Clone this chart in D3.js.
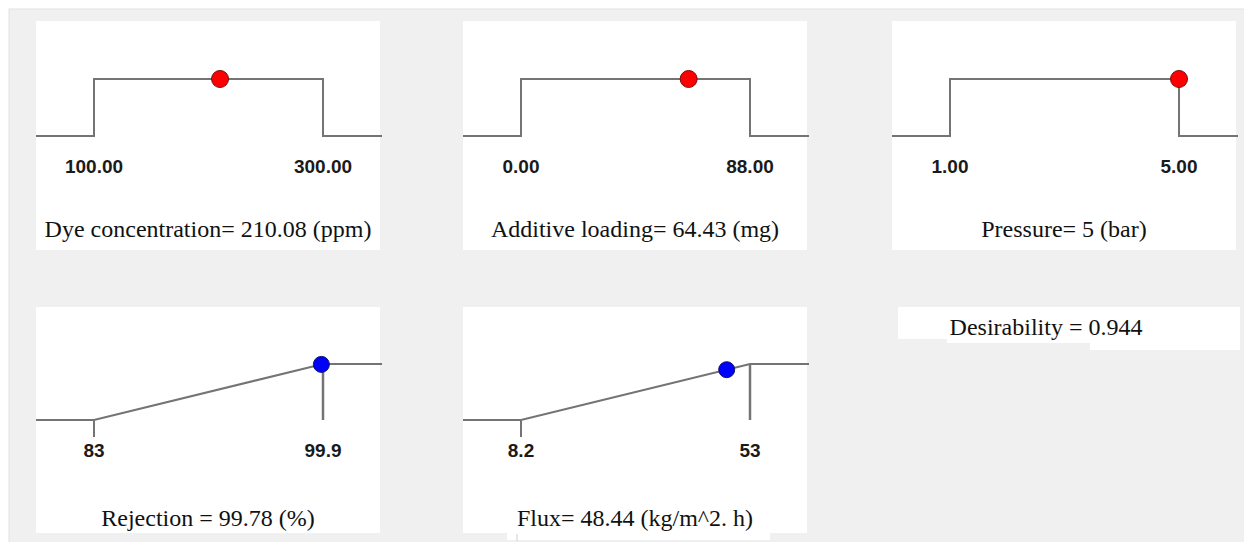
<!DOCTYPE html>
<html>
<head>
<meta charset="utf-8">
<script src="https://cdn.jsdelivr.net/npm/d3@7/dist/d3.min.js"></script>
<style>
  html, body { margin: 0; padding: 0; background: #ffffff; }
  svg { display: block; }
</style>
</head>
<body>
<svg id="chart" width="1244" height="542"></svg>
<script>
// Optimisation ramps: factor settings (top row) and responses (bottom row)
const factorNames  = ["Dye concentration", "Additive loading", "Pressure"];
const factorUnits  = ["ppm", "mg", "bar"];
const factorLow    = [100, 0, 1];
const factorHigh   = [300, 88, 5];
const factorValue  = [210.08, 64.43, 5];
const factorLowLabels  = ["100.00", "0.00", "1.00"];
const factorHighLabels = ["300.00", "88.00", "5.00"];
const factorTitles = ["Dye concentration= 210.08 (ppm)", "Additive loading= 64.43 (mg)", "Pressure= 5 (bar)"];

const responseNames  = ["Rejection", "Flux"];
const responseUnits  = ["%", "kg/m^2. h"];
const responseLow    = [83, 8.2];
const responseHigh   = [99.9, 53];
const responseValue  = [99.78, 48.44];
const responseLowLabels  = ["83", "8.2"];
const responseHighLabels = ["99.9", "53"];
const responseTitles = ["Rejection = 99.78 (%)", "Flux= 48.44 (kg/m^2. h)"];

const desirability = 0.944;

const svg = d3.select("#chart");
const LINE = "#747474";
const TICK_FONT = "'Liberation Sans', Arial, sans-serif";
const TITLE_FONT = "'Liberation Serif', 'Times New Roman', serif";

// panel frame
svg.append("rect").attr("x", 9).attr("y", 9).attr("width", 1240).attr("height", 540)
  .attr("fill", "#f0f0f0").attr("stroke", "#e2e2e2").attr("stroke-width", 1);

const colX = [36, 463, 892];
const boxW = 344;

// ---- factor panels (top row) ----
factorNames.forEach((name, i) => {
  const bx = colX[i], by = 21, bh = 229;
  const g = svg.append("g");
  g.append("rect").attr("x", bx).attr("y", by).attr("width", boxW).attr("height", bh).attr("fill", "#fff");

  const x = d3.scaleLinear().domain([factorLow[i], factorHigh[i]]).range([bx + 58, bx + 287]);
  const y = d3.scaleLinear().domain([0, 1]).range([136, 79]);

  const pts = [
    [bx, y(0)], [x(factorLow[i]), y(0)], [x(factorLow[i]), y(1)],
    [x(factorHigh[i]), y(1)], [x(factorHigh[i]), y(0)], [bx + boxW + 2, y(0)]
  ];
  g.append("path").attr("d", d3.line()(pts)).attr("fill", "none")
    .attr("stroke", LINE).attr("stroke-width", 2);

  g.append("circle").attr("cx", x(factorValue[i])).attr("cy", y(1)).attr("r", 8.5)
    .attr("fill", "#ff0000").attr("stroke", "#7a1010").attr("stroke-width", 1);

  [[factorLow[i], factorLowLabels[i]], [factorHigh[i], factorHighLabels[i]]].forEach(([v, t]) => {
    g.append("text").attr("x", x(v)).attr("y", 173).attr("text-anchor", "middle")
      .attr("font-family", TICK_FONT).attr("font-size", 19).attr("font-weight", "bold")
      .attr("fill", "#1a1a1a").text(t);
  });

  g.append("text").attr("x", bx + boxW / 2).attr("y", 237).attr("text-anchor", "middle")
    .attr("font-family", TITLE_FONT).attr("font-size", 24).attr("fill", "#111")
    .text(factorTitles[i]);
});

// ---- response panels (bottom row) ----
responseNames.forEach((name, i) => {
  const bx = colX[i], by = 307, bh = 226;
  const g = svg.append("g");
  g.append("rect").attr("x", bx).attr("y", by).attr("width", boxW).attr("height", bh).attr("fill", "#fff");

  const x = d3.scaleLinear().domain([responseLow[i], responseHigh[i]]).range([bx + 58, bx + 287]);
  const y = d3.scaleLinear().domain([0, 1]).range([420, 364]);
  const d = d3.scaleLinear().domain([responseLow[i], responseHigh[i]]).range([0, 1]).clamp(true);

  const pts = [
    [bx, y(0)], [x(responseLow[i]), y(0)], [x(responseHigh[i]), y(1)], [bx + boxW + 2, y(1)]
  ];
  g.append("path").attr("d", d3.line()(pts)).attr("fill", "none")
    .attr("stroke", LINE).attr("stroke-width", 2);
  // limit markers
  g.append("line").attr("x1", x(responseLow[i])).attr("x2", x(responseLow[i]))
    .attr("y1", y(0)).attr("y2", y(0) + 17).attr("stroke", LINE).attr("stroke-width", 2);
  g.append("line").attr("x1", x(responseHigh[i])).attr("x2", x(responseHigh[i]))
    .attr("y1", y(1)).attr("y2", y(0)).attr("stroke", LINE).attr("stroke-width", 2.5);

  g.append("circle").attr("cx", x(responseValue[i])).attr("cy", y(d(responseValue[i]))).attr("r", 8)
    .attr("fill", "#0000ff").attr("stroke", "#10106a").attr("stroke-width", 1);

  [[responseLow[i], responseLowLabels[i]], [responseHigh[i], responseHighLabels[i]]].forEach(([v, t]) => {
    g.append("text").attr("x", x(v)).attr("y", 457).attr("text-anchor", "middle")
      .attr("font-family", TICK_FONT).attr("font-size", 19).attr("font-weight", "bold")
      .attr("fill", "#1a1a1a").text(t);
  });

  g.append("text").attr("x", bx + boxW / 2).attr("y", 526).attr("text-anchor", "middle")
    .attr("font-family", TITLE_FONT).attr("font-size", 24).attr("fill", "#111")
    .text(responseTitles[i]);
});

// strip under the flux caption
svg.append("rect").attr("x", 507).attr("y", 533).attr("width", 263).attr("height", 7).attr("fill", "#fff");
svg.append("line").attr("x1", 517).attr("x2", 517).attr("y1", 534).attr("y2", 541)
  .attr("stroke", "#cfcfcf").attr("stroke-width", 1);

// ---- overall desirability ----
const dg = svg.append("g");
dg.append("rect").attr("x", 898).attr("y", 307).attr("width", 342).attr("height", 32).attr("fill", "#fff");
dg.append("rect").attr("x", 947).attr("y", 338).attr("width", 144).attr("height", 5).attr("fill", "#fff");
dg.append("rect").attr("x", 1090).attr("y", 338).attr("width", 150).attr("height", 12).attr("fill", "#fff");
dg.append("text").attr("x", 1046).attr("y", 335).attr("text-anchor", "middle")
  .attr("font-family", TITLE_FONT).attr("font-size", 24).attr("fill", "#111")
  .text("Desirability = " + desirability.toFixed(3));
</script>
</body>
</html>
